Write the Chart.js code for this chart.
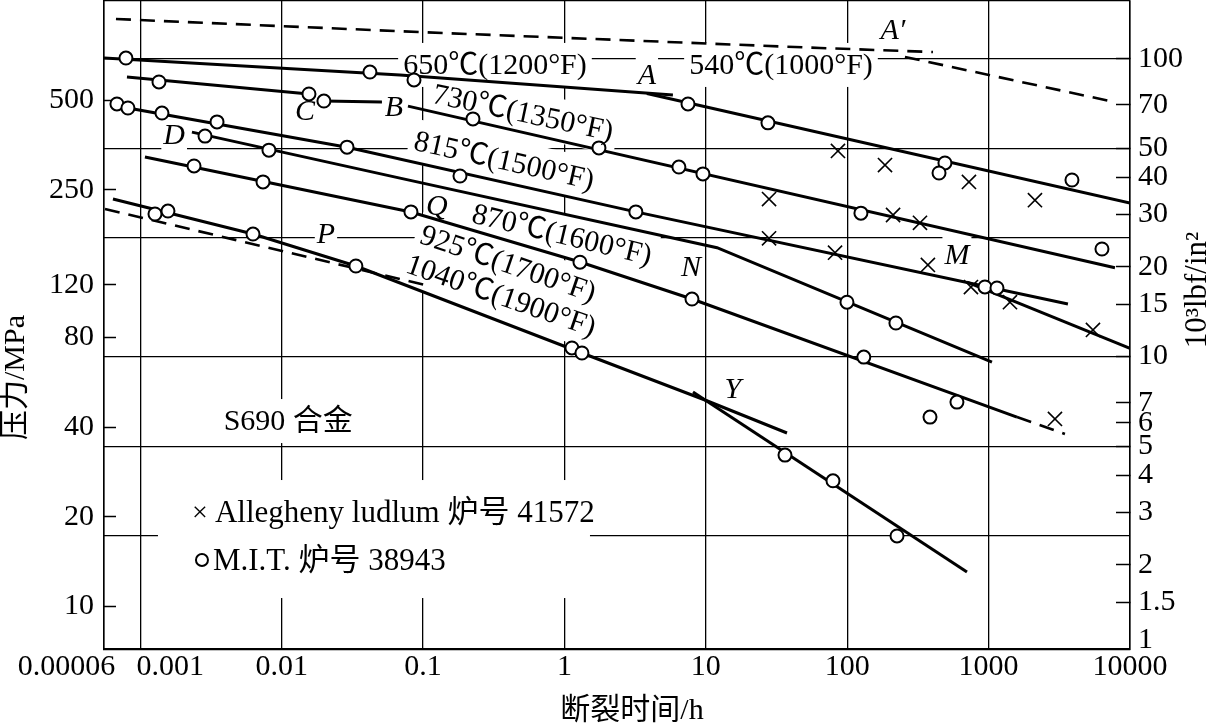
<!DOCTYPE html>
<html><head><meta charset="utf-8">
<script src="https://cdn.jsdelivr.net/npm/chart.js@4.4.0/dist/chart.umd.min.js"></script>
<style>html,body{margin:0;padding:0;background:#fff;overflow:hidden}#wrap{width:1216px;height:728px}</style>
</head><body><div id="wrap"><canvas id="c" width="1216" height="728"></canvas></div>
<script>
// ---------------- data (time in h, stress in MPa) ----------------
const xTickValues = [5.54e-4, 0.001, 0.01, 0.1, 1, 10, 100, 1000, 10000];
const xTickLabels = ['0.00006', '0.001', '0.01', '0.1', '1', '10', '100', '1000', '10000'];
const mpaTickValues = [10, 20, 40, 80, 120, 250, 500];
const ksiTickValues = [1, 1.5, 2, 3, 4, 5, 6, 7, 10, 15, 20, 30, 40, 50, 70, 100];
const ksiTickLabels = ['1', '1.5', '2', '3', '4', '5', '6', '7', '10', '15', '20', '30', '40', '50', '70', '100'];
const ksiGridValues = [2.5, 5, 10, 25, 50, 100];

const line540a = [[6.73e-4, 937], [0.0951, 847], [64.2, 749], [404, 726]];
const line540b = [[256, 699], [7827, 493]];
const line650 = [[5.54e-4, 693], [0.0687, 608], [5.85, 521]];
const line650A = [[3.83, 527], [10000, 226]];
const line730a = [[8.05e-4, 599], [0.0156, 525]];
const line730b = [[0.0199, 497], [0.0512, 493]];
const line730c = [[0.0782, 478], [7827, 137]];
const line815 = [[6.84e-4, 486], [8.18e-4, 471], [0.029, 348], [3.2, 211], [3640, 103.5]];
const line815M = [[703, 122.7], [10000, 73.5]];
const lineD = [[2.32e-3, 391], [0.0687, 274], [12.0, 160], [1056, 66.1]];
const lineQ = [[1.079e-3, 322.5], [0.0821, 210.8], [1.288, 143.2], [7.98, 107.6], [1587, 43.2]];
const lineQdash = [[1587, 43.2], [3467, 37.9]];
const line1040 = [[6.41e-4, 233.1], [6.27e-3, 177.8], [0.0335, 138.9], [1.33, 70.9], [9.86, 49.3], [37.5, 38.2]];
const lineY = [[8.11, 52.45], [703, 13.05]];
const lineP = [[5.63e-4, 215.8], [0.0319, 137], [0.1032, 119.9]];

const mitPoints = [
  [7.92e-4, 693], [0.0421, 622], [0.0863, 585], [7.48, 486], [27.5, 420], [491, 308], [446, 285], [3886, 270],
  [1.356e-3, 576], [0.0156, 525], [0.0199, 497], [0.2254, 433], [1.754, 346], [6.45, 298.5], [9.54, 283], [125, 209], [6334, 158.4],
  [6.84e-4, 486], [8.18e-4, 471], [1.424e-3, 453], [3.49e-3, 423], [0.029, 348], [0.1825, 278.5], [3.2, 211], [942, 118.1], [1146, 117.2],
  [2.87e-3, 379], [8.13e-3, 340], [99.6, 105], [221, 89.4],
  [2.4e-3, 301], [7.38e-3, 266], [0.0821, 211], [1.288, 143], [7.98, 107.6], [131, 68.7], [597, 48.5], [385, 43.2],
  [1.271e-3, 207.6], [1.57e-3, 212.4], [6.27e-3, 177.8], [0.0335, 138.9], [1.13, 73.7], [1.33, 70.9], [36.3, 32.2], [79.3, 26.4], [225, 17.24]
];
const alleghenyPoints = [
  [86, 338], [185, 303], [726, 266], [2127, 231],
  [28, 233], [28, 172], [211, 206], [327, 194],
  [82, 154], [372, 140], [750, 118], [1416, 105], [5470, 84.7], [2946, 42.6]
];

const curveLabels = [
  {t: 'A′', x: 210.6, y: 860, rot: 0, it: true},
  {t: '650℃(1200°F)', x: 0.3226, y: 657, rot: 0},
  {t: 'A', x: 3.83, y: 608, rot: 0, it: true},
  {t: '540℃(1000°F)', x: 34.0, y: 657, rot: 0},
  {t: 'C', x: 0.01462, y: 460, rot: 0, it: true},
  {t: 'B', x: 0.06226, y: 475, rot: 0, it: true},
  {t: 'D', x: 1.737e-3, y: 382, rot: 0, it: true},
  {t: '730℃(1350°F)', x: 0.5087, y: 453, rot: 12},
  {t: '815℃(1500°F)', x: 0.3743, y: 313, rot: 12.6},
  {t: '870℃(1600°F)', x: 0.959, y: 176.5, rot: 13.4},
  {t: 'Q', x: 0.1254, y: 220.8, rot: 0, it: true},
  {t: '925℃(1700°F)', x: 0.3988, y: 141, rot: 19},
  {t: '1040℃(1900°F)', x: 0.3557, y: 110.1, rot: 19},
  {t: 'P', x: 0.02058, y: 177.8, rot: 0, it: true},
  {t: 'N', x: 7.855, y: 137.8, rot: 0, it: true},
  {t: 'M', x: 597, y: 151.2, rot: 0, it: true},
  {t: 'Y', x: 15.53, y: 53.7, rot: 0, it: true},
  {t: 'S690 合金', x: 0.01113, y: 41.9, rot: 0}
];
const legendRows = ['Allegheny ludlum 炉号 41572', 'M.I.T. 炉号 38943'];
const legendAnchor = {x: 2.644e-3, y: 20.58};

// ---------------- chart ----------------
const SERIF = "'Liberation Serif', 'Times New Roman', 'Noto Sans CJK SC', serif";
const F30 = {family: SERIF, size: 30, lineHeight: 1.2};
const xMin = 5.54e-4, xMax = 10000;
const mpaMin = 7.195, mpaMax = 1077;
const KSI = 6.895;
const ksiLabelFloor = 1.12; // the "1" label sits just above the frame in the source

const pts = a => a.map(p => ({x: p[0], y: p[1]}));
const lines = [
  {d: line540a, dash: true}, {d: line540b, dash: true},
  {d: line650}, {d: line650A},
  {d: line730a}, {d: line730b}, {d: line730c},
  {d: line815}, {d: line815M},
  {d: lineD},
  {d: lineQ}, {d: lineQdash, dash: true},
  {d: line1040}, {d: lineY},
  {d: lineP, dash: true}
];

function drawLabels(chart, bg) {
  const ctx = chart.ctx, xs = chart.scales.x, ys = chart.scales.y;
  ctx.save();
  for (const L of curveLabels) {
    const px = xs.getPixelForValue(L.x), py = ys.getPixelForValue(L.y);
    ctx.save();
    ctx.translate(px, py);
    ctx.rotate(L.rot * Math.PI / 180);
    ctx.font = (L.it ? 'italic ' : '') + '30px ' + SERIF;
    const w = ctx.measureText(L.t).width;
    if (bg) {
      ctx.fillStyle = '#fff';
      const padX = L.it ? 2 : 5, h = 44;
      ctx.fillRect(-w / 2 - padX, -h / 2, w + 2 * padX, h);
    } else {
      ctx.fillStyle = '#000';
      ctx.textAlign = 'center';
      ctx.textBaseline = 'middle';
      ctx.fillText(L.t, 0, 1);
    }
    ctx.restore();
  }
  // legend
  const ax = xs.getPixelForValue(legendAnchor.x), ay = ys.getPixelForValue(legendAnchor.y);
  if (bg) {
    ctx.fillStyle = '#fff';
    ctx.fillRect(ax - 42, ay - 33, 432, 118);
  } else {
    ctx.fillStyle = '#000';
    ctx.textBaseline = 'middle';
    ctx.textAlign = 'center';
    ctx.font = '28px ' + SERIF;
    ctx.fillText('×', ax, ay + 1);
    ctx.textAlign = 'left';
    ctx.font = '31px ' + SERIF;
    ctx.fillText(legendRows[0], ax + 15, ay + 1);
    ctx.beginPath();
    ctx.arc(ax + 2, ay + 47, 6, 0, Math.PI * 2);
    ctx.lineWidth = 2; ctx.strokeStyle = '#000'; ctx.stroke();
    ctx.fillText(legendRows[1], ax + 13, ay + 49);
  }
  ctx.restore();
}

const labelPlugin = {
  id: 'curveLabels',
  beforeDatasetsDraw(chart) { drawLabels(chart, true); },
  afterDatasetsDraw(chart) {
    drawLabels(chart, false);
    const ctx = chart.ctx, ca = chart.chartArea;
    ctx.save();
    ctx.translate(ca.right + 68, ca.top + 289);
    ctx.rotate(-Math.PI / 2);
    ctx.font = '31px ' + SERIF;
    ctx.fillStyle = '#000';
    ctx.textAlign = 'center';
    ctx.textBaseline = 'middle';
    ctx.fillText('10³lbf/in²', 0, 0);
    ctx.restore();
  }
};

const datasets = [
  {label: 'Allegheny ludlum 炉号 41572', data: pts(alleghenyPoints), showLine: false,
   pointStyle: 'crossRot', pointRadius: 10, borderColor: '#000', backgroundColor: '#000', borderWidth: 1.6},
  {label: 'M.I.T. 炉号 38943', data: pts(mitPoints), showLine: false,
   pointStyle: 'circle', pointRadius: 6.5, borderColor: '#000', backgroundColor: '#fff', borderWidth: 2},
  ...lines.map((l, i) => ({label: 'curve' + i, data: pts(l.d), showLine: true, pointRadius: 0,
   borderColor: '#000', borderWidth: l.dash ? 2.6 : 3, borderDash: l.dash ? [15, 9] : [], tension: 0}))
];

new Chart(document.getElementById('c'), {
  type: 'scatter',
  data: {datasets},
  plugins: [labelPlugin],
  options: {
    responsive: false, animation: false, events: [],
    layout: {autoPadding: false, padding: {top: 1, left: 0, right: 0, bottom: 0}},
    plugins: {legend: {display: false}, tooltip: {enabled: false}},
    scales: {
      x: {
        type: 'logarithmic', position: 'bottom', min: xMin, max: xMax,
        afterBuildTicks: s => { s.ticks = xTickValues.map(v => ({value: v})); },
        afterFit: s => { s.height = 79; s.paddingLeft = 0; s.paddingRight = 0; },
        ticks: {autoSkip: false, maxRotation: 0, minRotation: 0, padding: 0, color: '#000', font: F30,
          callback: (v, i) => i === 0 ? xTickLabels[i] + '          ' : (i === 1 ? '        ' + xTickLabels[i] : xTickLabels[i])},
        grid: {color: '#000', lineWidth: 1.3, drawTicks: false},
        border: {display: true, color: '#000', width: 2.2},
        title: {display: true, text: '    断裂时间/h', color: '#000', font: {family: SERIF, size: 30, lineHeight: 1.1}, padding: {top: 0, bottom: 0}}
      },
      y: {
        type: 'logarithmic', position: 'left', min: mpaMin, max: mpaMax,
        afterBuildTicks: s => { s.ticks = mpaTickValues.map(v => ({value: v})); },
        afterFit: s => { s.width = 104; s.paddingTop = 0; s.paddingBottom = 0; },
        ticks: {autoSkip: false, padding: 22, color: '#000', font: F30, callback: v => String(v)},
        grid: {drawOnChartArea: false, drawTicks: true, tickLength: -12, tickWidth: 1.5, tickColor: '#000'},
        border: {display: true, color: '#000', width: 1.5},
        title: {display: true, text: '压力/MPa              ', color: '#000', font: {family: SERIF, size: 30, lineHeight: 1.1}, padding: {top: 0, bottom: 0}}
      },
      y2: {
        type: 'logarithmic', position: 'right', min: mpaMin / KSI, max: mpaMax / KSI,
        afterBuildTicks: s => { s.ticks = ksiTickValues.map(v => ({value: Math.max(v, ksiLabelFloor)})); },
        afterFit: s => { s.width = 86; s.paddingTop = 0; s.paddingBottom = 0; },
        ticks: {autoSkip: false, padding: 22, color: '#000', font: F30, callback: (v, i) => ksiTickLabels[i]},
        grid: {drawOnChartArea: false, drawTicks: true, tickLength: -14, tickWidth: 1.5,
          tickColor: c => (c.index === 0 ? 'rgba(0,0,0,0)' : '#000')},
        border: {display: true, color: '#000', width: 1.5}
      },
      yg: {
        type: 'logarithmic', position: 'right', min: mpaMin / KSI, max: mpaMax / KSI,
        afterBuildTicks: s => { s.ticks = ksiGridValues.concat([s.max]).map(v => ({value: v})); },
        afterFit: s => { s.width = 0; s.paddingTop = 0; s.paddingBottom = 0; },
        ticks: {display: false},
        grid: {color: '#000', lineWidth: 1.3, drawTicks: false},
        border: {display: false}
      }
    }
  }
});
</script></body></html>
